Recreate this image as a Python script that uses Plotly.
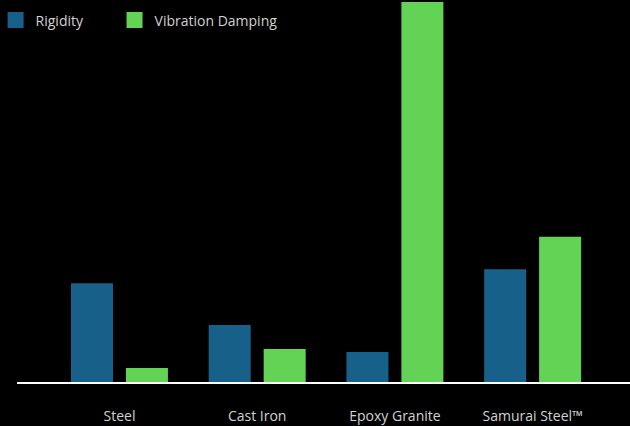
import plotly.graph_objects as go

categories = ["Steel", "Cast Iron", "Epoxy Granite", "Samurai Steel™"]
rigidity = [26, 15, 7.9, 29.7]
damping = [3.7, 8.7, 100, 38.2]

C_RIG = "#17608a"
C_DAMP = "#62d354"
TXT = "#d2d2d2"

fig = go.Figure()
fig.add_trace(go.Bar(x=categories, y=rigidity, name="Rigidity", marker_color=C_RIG,
                     marker_line_width=0, width=0.305, offset=-0.352, showlegend=False))
fig.add_trace(go.Bar(x=categories, y=damping, name="Vibration Damping", marker_color=C_DAMP,
                     marker_line_width=0, width=0.305, offset=0.047, showlegend=False))
# legend proxies
fig.add_trace(go.Scatter(x=[None], y=[None], mode="markers", name="Rigidity",
                         marker=dict(symbol="square", size=17, color=C_RIG),
                         legend="legend"))
fig.add_trace(go.Scatter(x=[None], y=[None], mode="markers", name="Vibration Damping",
                         marker=dict(symbol="square", size=17, color=C_DAMP),
                         legend="legend2"))

leg_common = dict(orientation="h", yanchor="top", xanchor="left",
                  itemsizing="trace", font=dict(size=14, color=TXT),
                  bgcolor="rgba(0,0,0,0)")

fig.update_layout(
    width=630, height=426,
    paper_bgcolor="#000000", plot_bgcolor="#000000",
    margin=dict(l=0, r=0, t=2, b=44, autoexpand=False),
    font=dict(family="Open Sans, Noto Sans, sans-serif", color=TXT, size=14),
    legend=dict(x=-0.007, y=0.9934, **leg_common),
    legend2=dict(x=0.1818, y=0.9934, **leg_common),
    xaxis=dict(domain=[17/630, 1], range=[-0.744, 3.707], showgrid=False,
               showline=True, linecolor="#ffffff", linewidth=1.5,
               ticks="", ticklabelstandoff=20, tickfont=dict(size=14, color=TXT),
               zeroline=False),
    yaxis=dict(range=[0, 100], visible=False),
    bargap=0.3,
)

fig.write_html("out.html")
